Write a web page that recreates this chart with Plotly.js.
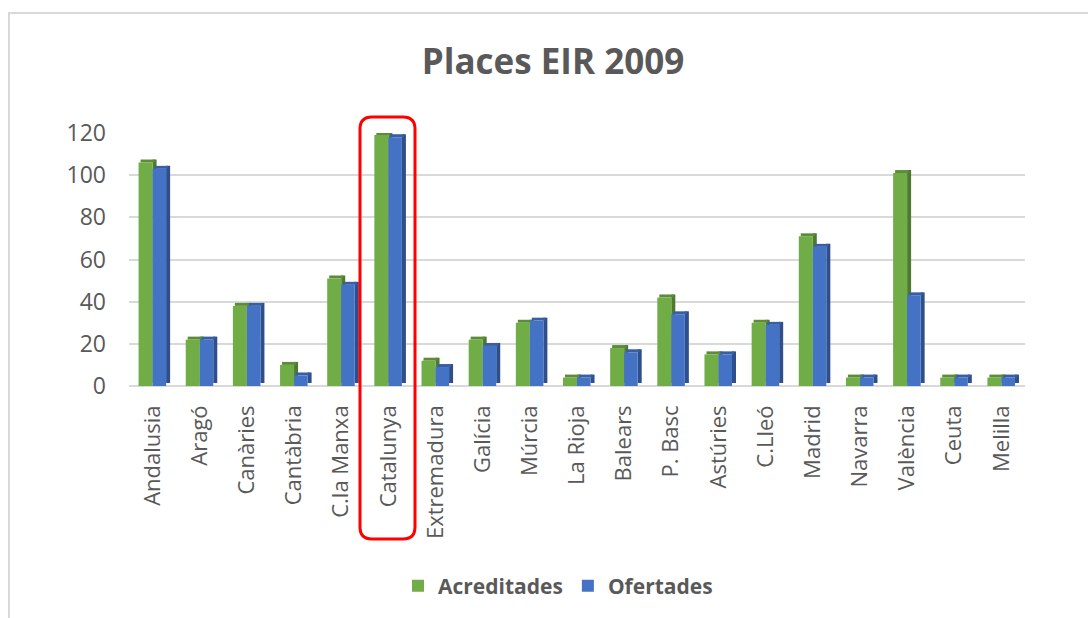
<!DOCTYPE html>
<html>
<head>
<meta charset="utf-8">
<script src="https://cdn.plot.ly/plotly-3.0.1.min.js"></script>
<style>
html,body{margin:0;padding:0;background:#fff;}
#chart{width:1088px;height:618px;}
</style>
</head>
<body>
<div id="chart"></div>
<script>
const categories = ["Andalusia","Aragó","Canàries","Cantàbria","C.la Manxa","Catalunya","Extremadura","Galícia","Múrcia","La Rioja","Balears","P. Basc","Astúries","C.Lleó","Madrid","Navarra","València","Ceuta","Melilla"];
const acreditades = [106,22,38,10,51,119,12,22,30,4,18,42,15,30,71,4,101,4,4];
const ofertades   = [103,22,38,5,48,118,9,19,31,4,16,34,15,29,66,4,43,4,4];
const yTicks = [0,20,40,60,80,100,120];

// layout geometry (pixels)
const W = 1088, H = 618;
const M = {l:129, r:63, t:133, b:232};
const plotW = W - M.l - M.r, plotH = H - M.t - M.b;
const px = x => (x - M.l) / plotW;
const py = y => (H - M.b - y) / plotH;

// 3D-ish column geometry in category units
const gW = 0.297, bW = 0.287, side = 0.085, capH = 1.42;
const gOff = -0.297, bOff = 0.0;

function sideTrace(vals, off, w, color){
  return {type:'bar', x:categories, y:vals, base:capH, offset:off+w, width:side,
    marker:{color:color, line:{width:0}}, showlegend:false, hoverinfo:'skip'};
}
function capTrace(vals, off, w, color){
  return {type:'bar', x:categories, y:vals.map(()=>capH), base:vals, offset:off+0.042, width:w,
    marker:{color:color, line:{width:0}}, showlegend:false, hoverinfo:'skip'};
}
function frontTrace(vals, off, w, color, name){
  return {type:'bar', name:name, x:categories, y:vals, offset:off, width:w,
    marker:{color:color, line:{width:0}}, hoverinfo:'x+y+name'};
}

const data = [
  sideTrace(acreditades, gOff, gW, '#4e7a2f'),
  capTrace(acreditades, gOff, gW, '#5c8c38'),
  frontTrace(acreditades, gOff, gW, '#70ad47', 'Acreditades'),
  sideTrace(ofertades, bOff, bW, '#2e4f8c'),
  capTrace(ofertades, bOff, bW, '#385fa3'),
  frontTrace(ofertades, bOff, bW, '#4472c4', 'Ofertades')
];

// red rounded box around Catalunya (pixels)
const bx0 = 360, bx1 = 415, by0 = 117, by1 = 539, rr = 12;
const boxPath = [
  'M', px(bx0+rr), py(by0),
  'L', px(bx1-rr), py(by0),
  'Q', px(bx1), py(by0), px(bx1), py(by0+rr),
  'L', px(bx1), py(by1-rr),
  'Q', px(bx1), py(by1), px(bx1-rr), py(by1),
  'L', px(bx0+rr), py(by1),
  'Q', px(bx0), py(by1), px(bx0), py(by1-rr),
  'L', px(bx0), py(by0+rr),
  'Q', px(bx0), py(by0), px(bx0+rr), py(by0),
  'Z'
];
let pathStr = '';
for (let i=0;i<boxPath.length;i++){
  const t = boxPath[i];
  if (typeof t === 'string') pathStr += t;
  else { pathStr += t.toFixed(5); if (typeof boxPath[i+1] === 'number') pathStr += ','; else pathStr += ' '; }
}

const layout = {
  width: W, height: H,
  margin: M,
  paper_bgcolor: '#ffffff', plot_bgcolor: '#ffffff',
  font: {family: '"Open Sans", "Noto Sans", sans-serif', color: '#595959'},
  barmode: 'overlay',
  title: {text: 'Places EIR 2009', font: {size: 35, color: '#595959', family: '"Open Sans", sans-serif', weight: 'bold'},
          x: px(553), xref: 'paper', xanchor: 'center', y: 1 - 62/H, yref: 'container', yanchor: 'middle'},
  xaxis: {type: 'category', showgrid: false, showline: false, ticks: '', tickangle: -90,
          tickfont: {size: 22, color: '#595959'}, ticklabelstandoff: 14, fixedrange: true},
  yaxis: {range: [0, 120], tickvals: yTicks, ticktext: yTicks.map(String), showgrid: true, gridcolor: '#d9d9d9', gridwidth: 2,
          zeroline: true, zerolinecolor: '#d9d9d9', zerolinewidth: 2, showline: false, ticks: '',
          tickfont: {size: 23, color: '#595959'}, ticklabelstandoff: 22, fixedrange: true},
  legend: {orientation: 'h', x: px(558), xanchor: 'center', y: py(586), yanchor: 'middle',
           font: {size: 21, color: '#595959', weight: 'bold'}, itemclick: false, itemdoubleclick: false},
  shapes: [
    {type: 'rect', xref: 'paper', yref: 'paper', x0: px(9), x1: px(1095), y0: py(13), y1: py(625),
     line: {color: '#d9d9d9', width: 2}, fillcolor: 'rgba(0,0,0,0)', layer: 'below'},
    {type: 'path', xref: 'paper', yref: 'paper', path: pathStr,
     line: {color: '#ff0000', width: 3}, fillcolor: 'rgba(0,0,0,0)', layer: 'above'}
  ]
};

Plotly.newPlot('chart', data, layout, {displayModeBar: false, staticPlot: true});
</script>
</body>
</html>
